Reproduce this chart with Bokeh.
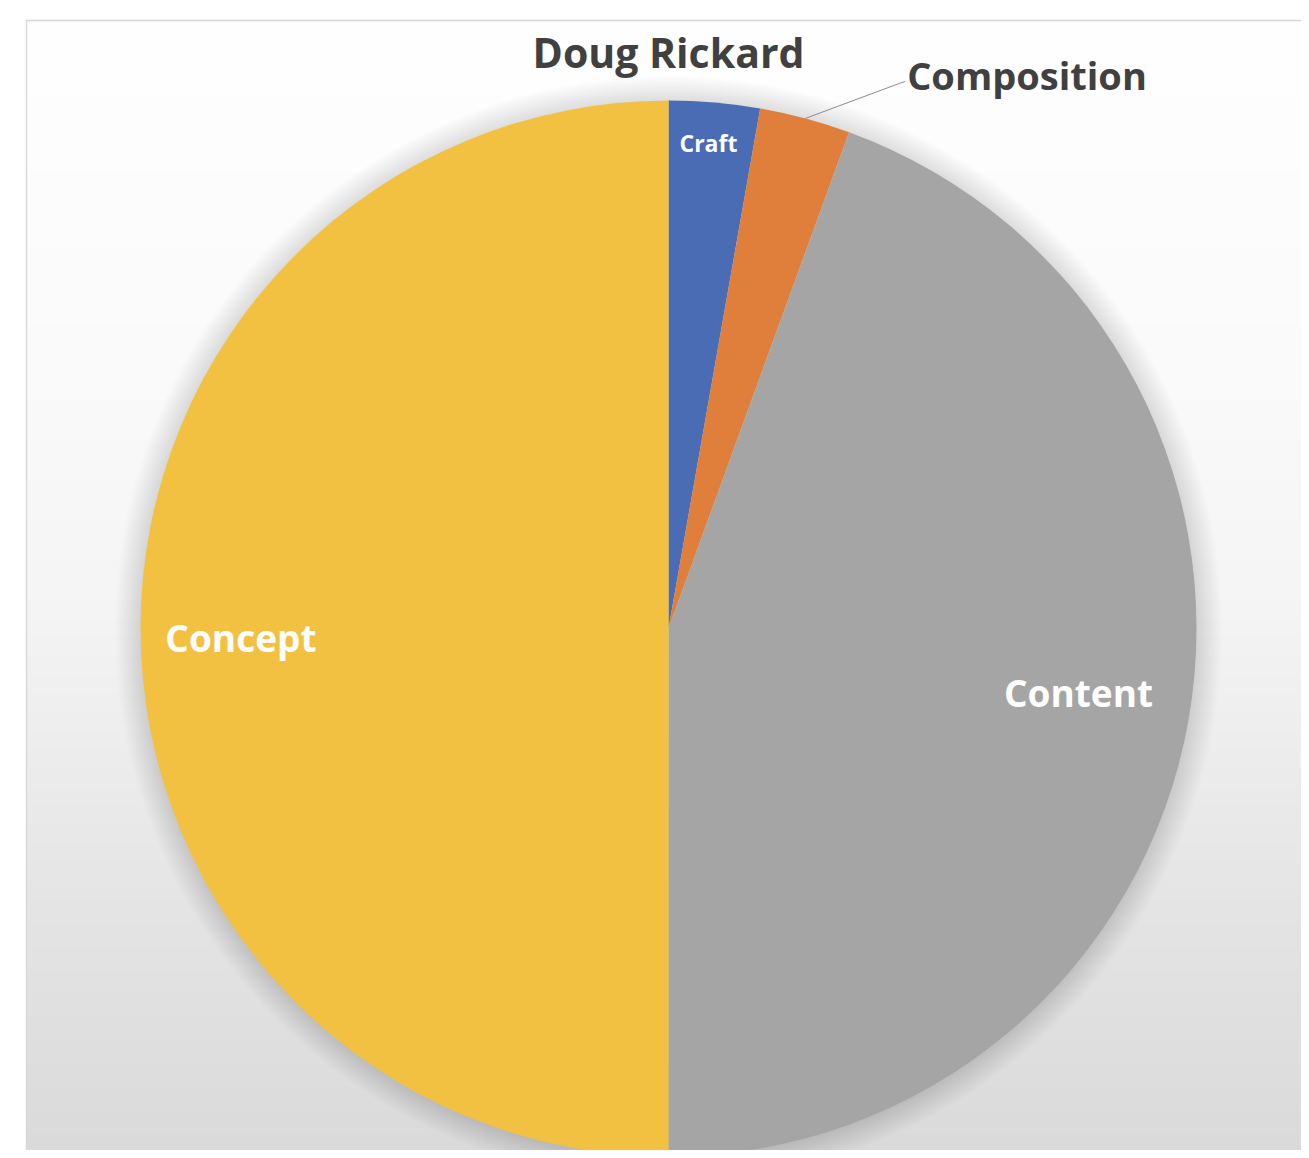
import numpy as np
from bokeh.plotting import figure
from bokeh.models import Range1d, ColumnDataSource
from bokeh.core.properties import value
from bokeh.embed import file_html
from bokeh.resources import INLINE

# ---- data ----
title = "Doug Rickard"
categories = ["Craft", "Composition", "Content", "Concept"]
values = [1, 1, 16, 18]
colors = ["#4a6cb4", "#e07f3c", "#a5a5a5", "#f3c142"]
label_colors = ["#ffffff", "#404040", "#ffffff", "#ffffff"]
label_radius = [0.923, None, 0.786, 0.81]   # fraction of radius for inside labels
label_dangle = [0.3, 0.0, 1.1, 1.2]         # small angular nudge (degrees, ccw)

W, H = 1301, 1150
X0, Y0 = 0, 0
def Y(sy):               # screen y -> data y
    return (H + Y0) - sy

p = figure(width=W, height=H, output_backend="svg", toolbar_location=None,
           x_range=Range1d(X0, X0 + W), y_range=Range1d(0, H),
           min_border=0, outline_line_color=None, background_fill_color="white",
           border_fill_color="white")
p.axis.visible = False
p.grid.visible = False

# ---- chart-area background gradient ----
ax0, ay0 = 26, 20
aw, ah = (X0 + W) - ax0, (H + Y0) - ay0
rows = np.arange(ah)
sy = (H + Y0) - rows           # screen y of each row (row 0 = bottom)
g = np.interp(sy, [20, 400, 600, 900, 1158], [255, 250, 245, 229, 218]).astype(np.uint8)
img = np.zeros((ah, 1, 4), dtype=np.uint8)
img[:, 0, 0] = g
img[:, 0, 1] = g
img[:, 0, 2] = g
img[:, 0, 3] = 255
p.image_rgba(image=[img.view(np.uint32).reshape(ah, 1)], x=ax0, y=0, dw=aw, dh=ah)
p.quad(left=[ax0], right=[X0 + W + 5], bottom=[-5], top=[Y(ay0)],
       fill_color=None, line_color="#d8d8d8", line_width=1.5)

# ---- pie geometry ----
cx, cy, R = 668, Y(628), 528
vals = np.array(values, dtype=float)
frac = vals / vals.sum()
cum1 = np.cumsum(frac)
cum0 = cum1 - frac
start = np.pi / 2 - 2 * np.pi * cum0
end = np.pi / 2 - 2 * np.pi * cum1
mid = (start + end) / 2

# soft shadow
for k in range(1, 17):
    p.circle(x=[cx], y=[cy - 1], radius=R + k * 1.6, fill_color="black",
             fill_alpha=0.009, line_color=None)

src = ColumnDataSource(dict(start=start, end=end, color=colors, cat=categories))
p.wedge(x=cx, y=cy, radius=R, start_angle="start", end_angle="end",
        direction="clock", fill_color="color", line_color=None, source=src)

# ---- labels ----
font = value("Open Sans")
for i, cat in enumerate(categories):
    if label_radius[i] is None:
        continue
    r = label_radius[i] * R
    a = mid[i] + np.radians(label_dangle[i])
    lx = cx + r * np.cos(a)
    ly = cy + r * np.sin(a)
    size = "23px" if cat == "Craft" else "37px"
    p.text(x=[lx], y=[ly], text=[cat], text_font=font, text_font_style="bold",
           text_font_size=size, text_color=label_colors[i],
           text_align="center", text_baseline="middle")

# outside label with leader line (Composition)
i = categories.index("Composition")
ex = cx + R * np.cos(mid[i])
ey = cy + R * np.sin(mid[i])
tx, ty = ex + 100, ey + 37
p.line(x=[ex, tx - 6, tx], y=[ey, ty - 2, ty], line_color="#8c8c8c", line_width=1)
p.text(x=[tx + 2], y=[ty + 6], text=[categories[i]], text_font=font,
       text_font_style="bold", text_font_size="38px", text_color=label_colors[i],
       text_align="left", text_baseline="middle")

# title
p.text(x=[cx], y=[Y(51)], text=[title], text_font=font, text_font_style="bold",
       text_font_size="41px", text_color="#404040",
       text_align="center", text_baseline="middle")

open("out.html", "w").write(file_html(p, INLINE))
